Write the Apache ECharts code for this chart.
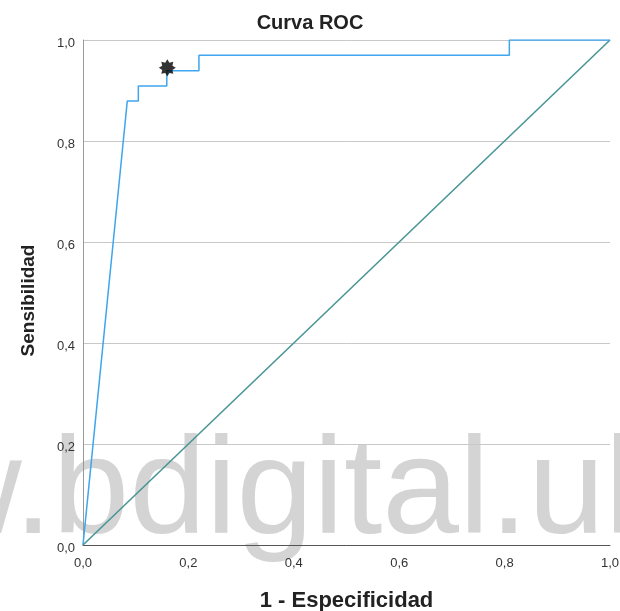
<!DOCTYPE html>
<html>
<head>
<meta charset="utf-8">
<title>Curva ROC</title>
<script src="https://cdn.jsdelivr.net/npm/echarts@6/dist/echarts.min.js"></script>
<style>
  html, body { margin: 0; padding: 0; background: #fff; }
  #chart { width: 620px; height: 611px; }
</style>
</head>
<body>
<div id="chart"></div>
<script>
// ROC curve: false positive rate (1 - especificidad) vs true positive rate (sensibilidad)
const rocFpr = [0, 0.084, 0.105, 0.105, 0.159, 0.159, 0.220, 0.220, 0.809, 0.809, 1.0];
const rocTpr = [0, 0.879, 0.879, 0.909, 0.909, 0.939, 0.939, 0.970, 0.970, 1.0, 1.0];

// Reference (chance) diagonal
const diagX = [0, 1];
const diagY = [0, 1];

// Selected cut-off point
const cutX = [0.16];
const cutY = [0.945];

// Axis ticks
const tickValues = [0, 0.2, 0.4, 0.6, 0.8, 1.0];

const fmt = v => v.toFixed(1).replace('.', ',');
const zip = (xs, ys) => xs.map((x, i) => [x, ys[i]]);

const starPath = 'path://M10 0 L12.49 4 L17.07 2.93 L16 7.51 L20 10 L16 12.49 L17.07 17.07 L12.49 16 L10 20 L7.51 16 L2.93 17.07 L4 12.49 L0 10 L4 7.51 L2.93 2.93 L7.51 4 Z';

const FONT = '"Liberation Sans", Arial, sans-serif';

const chart = echarts.init(document.getElementById('chart'), null, { renderer: 'canvas' });

chart.setOption({
  backgroundColor: '#fff',
  animation: false,
  textStyle: { fontFamily: FONT },
  title: {
    text: 'Curva ROC',
    left: 'center',
    top: 8,
    textStyle: { fontSize: 20, fontWeight: 'bold', color: '#222', fontFamily: FONT }
  },
  graphic: [{
    type: 'text',
    left: -78,
    top: 426,
    z: -10,
    silent: true,
    style: {
      text: 'w.bdigital.ul',
      font: '138px "Liberation Sans", Arial, sans-serif',
      fill: '#d4d4d4'
    }
  }],
  grid: { left: 83, right: 10, top: 40, bottom: 66, outerBoundsMode: 'none' },
  xAxis: {
    type: 'value',
    min: tickValues[0],
    max: tickValues[tickValues.length - 1],
    interval: 0.2,
    name: '1 - Especificidad',
    nameLocation: 'middle',
    nameGap: 45,
    nameTextStyle: { fontSize: 22, fontWeight: 'bold', color: '#222', fontFamily: FONT },
    axisLine: { show: true, lineStyle: { color: '#555', width: 1 } },
    axisTick: { show: false },
    splitLine: { show: false },
    axisLabel: { formatter: fmt, fontSize: 13, color: '#333', margin: 12, fontFamily: FONT }
  },
  yAxis: {
    type: 'value',
    min: tickValues[0],
    max: tickValues[tickValues.length - 1],
    interval: 0.2,
    name: 'Sensibilidad',
    nameLocation: 'middle',
    nameGap: 45,
    nameTextStyle: { fontSize: 19, fontWeight: 'bold', color: '#222', fontFamily: FONT, padding: [0, 16, 0, 0] },
    axisLine: { show: true, lineStyle: { color: '#999', width: 1 } },
    axisTick: { show: false },
    splitLine: { show: true, lineStyle: { color: '#c8c8c8', width: 1 } },
    axisLabel: { formatter: fmt, fontSize: 13, color: '#333', margin: 8, verticalAlign: 'top', lineHeight: 6, fontFamily: FONT }
  },
  series: [
    {
      name: 'Referencia',
      type: 'line',
      data: zip(diagX, diagY),
      showSymbol: false,
      lineStyle: { color: '#4a9595', width: 1.6 },
      z: 2
    },
    {
      name: 'ROC',
      type: 'line',
      data: zip(rocFpr, rocTpr),
      showSymbol: false,
      lineStyle: { color: '#3ea5ee', width: 1.5 },
      z: 3
    },
    {
      name: 'Punto de corte',
      type: 'scatter',
      data: zip(cutX, cutY),
      symbol: starPath,
      symbolSize: 17,
      itemStyle: { color: '#000' },
      z: 4
    }
  ]
});
</script>
</body>
</html>
